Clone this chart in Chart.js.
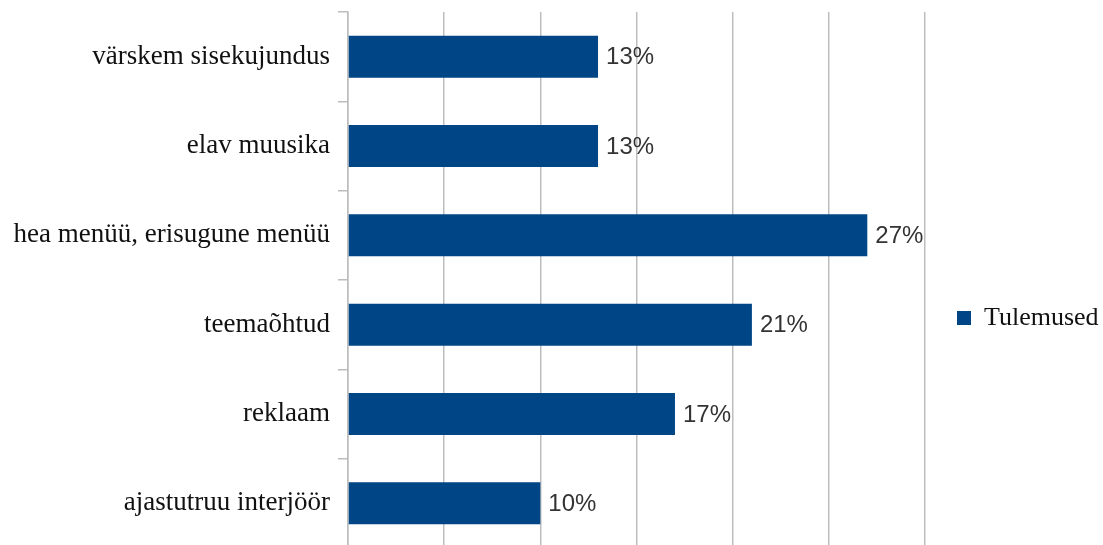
<!DOCTYPE html>
<html>
<head>
<meta charset="utf-8">
<script src="https://cdn.jsdelivr.net/npm/chart.js@4/dist/chart.umd.min.js"></script>
<style>
    html, body { margin: 0; padding: 0; background: #fff; overflow: hidden; }
    #wrap { width: 1103px; height: 640px; }
</style>
</head>
<body>
<div id="wrap"><canvas id="graphTulemused"></canvas></div>
<script>
const categories = [
    'värskem sisekujundus',
    'elav muusika',
    'hea menüü, erisugune menüü',
    'teemaõhtud',
    'reklaam',
    'ajastutruu interjöör'
];
const tulemused = [13, 13, 27, 21, 17, 10];
const seriesName = 'Tulemused';

const gridColor = '#bdbdbd';
const barColor = '#004586';

// percentage label right of each bar
const valueLabels = {
    id: 'valueLabels',
    afterDatasetsDraw(chart) {
        const ctx = chart.ctx;
        const meta = chart.getDatasetMeta(0);
        ctx.save();
        ctx.font = '24px "Liberation Sans", Arial, sans-serif';
        ctx.fillStyle = '#333333';
        ctx.textAlign = 'left';
        ctx.textBaseline = 'middle';
        meta.data.forEach(function (bar, i) {
            ctx.fillText(chart.data.datasets[0].data[i] + '%', bar.x + 8, bar.y + 1);
        });
        ctx.restore();
    }
};

const $grafica = document.querySelector('#graphTulemused');

new Chart($grafica, {
    type: 'bar',
    data: {
        labels: categories,
        datasets: [{
            label: seriesName,
            data: tulemused,
            backgroundColor: barColor,
            borderWidth: 0,
            categoryPercentage: 1,
            barPercentage: 0.47
        }]
    },
    options: {
        indexAxis: 'y',
        responsive: true,
        maintainAspectRatio: false,
        animation: false,
        layout: {
            padding: { top: 12, bottom: 16, left: 0, right: 0 }
        },
        scales: {
            x: {
                min: 0,
                max: 30,
                ticks: { display: false, stepSize: 5 },
                grid: {
                    color: gridColor,
                    lineWidth: 1.5,
                    drawTicks: false
                },
                border: { display: false },
                afterFit: function (scale) { scale.height = 76; }
            },
            y: {
                offset: true,
                grid: {
                    offset: true,
                    drawOnChartArea: false,
                    color: gridColor,
                    lineWidth: 1.5,
                    tickLength: 10
                },
                border: { display: true, color: gridColor, width: 1.5 },
                ticks: {
                    color: '#111111',
                    padding: 8,
                    font: { family: '"Liberation Serif", "Times New Roman", serif', size: 27 }
                },
                afterFit: function (scale) {
                    scale.width = 348;
                    scale.paddingTop = 0;
                    scale.paddingBottom = 0;
                }
            }
        },
        plugins: {
            legend: {
                position: 'right',
                maxWidth: 178,
                labels: {
                    boxWidth: 14,
                    boxHeight: 14,
                    padding: 32,
                    color: '#111111',
                    font: { family: '"Liberation Serif", "Times New Roman", serif', size: 26 }
                }
            },
            tooltip: { enabled: false }
        }
    },
    plugins: [valueLabels]
});
</script>
</body>
</html>
